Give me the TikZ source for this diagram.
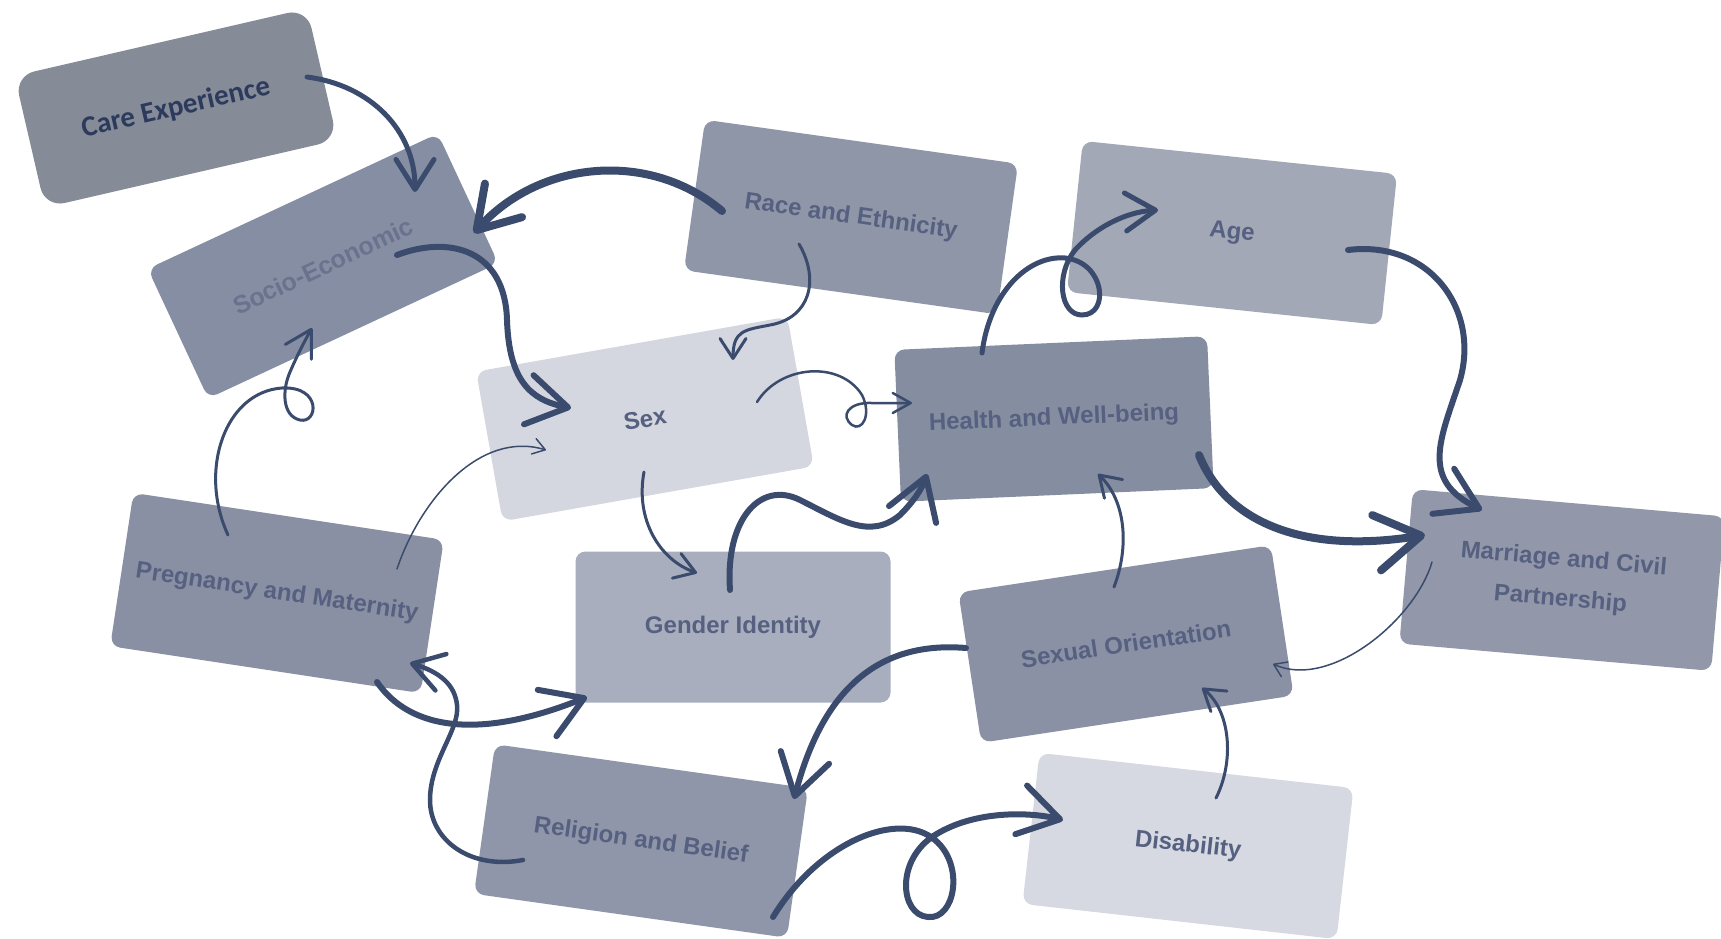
\documentclass[tikz,border=0pt]{standalone}
\usepackage{fontspec}
\setmainfont{Liberation Sans}
\newfontfamily\carefont{Carlito}
\usetikzlibrary{arrows.meta}
\definecolor{ink}{HTML}{3B4B6D}
\definecolor{lbl}{HTML}{566080}
\definecolor{careclr}{HTML}{868B98}
\definecolor{careink}{HTML}{2C3A5C}
\definecolor{socclr}{HTML}{858EA3}
\definecolor{soctxt}{HTML}{6A738D}
\definecolor{raceclr}{HTML}{8F96A8}
\definecolor{ageclr}{HTML}{A2A8B6}
\definecolor{sexclr}{HTML}{D4D7DF}
\definecolor{healthclr}{HTML}{858DA1}
\definecolor{pregclr}{HTML}{8990A3}
\definecolor{genderclr}{HTML}{A8AEBD}
\definecolor{orientclr}{HTML}{8A91A5}
\definecolor{marrclr}{HTML}{9298AA}
\definecolor{religclr}{HTML}{8F96A9}
\definecolor{disclr}{HTML}{D6D9E1}

\begin{document}
\begin{tikzpicture}[x=1pt,y=-1pt,
	card/.style={rounded corners=10pt, minimum width=316pt, minimum height=152pt, inner sep=0pt, align=center, text=lbl, font=\bfseries\fontsize{24}{29}\selectfont},
	bigarrow/.style={draw=ink, line width=7pt, line cap=round, -{Straight Barb[length=40pt,width=50pt,round]}},
	midarrow/.style={draw=ink, line width=4.5pt, line cap=round, -{Straight Barb[length=30pt,width=38pt,round]}},
	lowarrow/.style={draw=ink, line width=3pt, line cap=round, -{Straight Barb[length=20pt,width=26pt,round]}},
	thinarrow/.style={draw=ink, line width=1.5pt, line cap=round, -{Straight Barb[length=12pt,width=16pt,round]}}]
	%%%%% START %%%%%
	\fill[white] (0,0) rectangle (1721,939);
	\useasboundingbox (0,0) rectangle (1721,939);
	
	% boxes
	\node[card, fill=careclr, minimum width=300pt, minimum height=135pt, rounded corners=20pt, rotate=13, text=careink, font=\carefont\bfseries\fontsize{29}{34}\selectfont] (care) at (176,108) {Care Experience};
	\node[card, fill=socclr, minimum width=320pt, minimum height=143pt, rotate=25, text=soctxt, font=\bfseries\fontsize{25}{30}\selectfont] (socio) at (323,266) {Socio-Economic};
	\node[card, fill=raceclr, rotate=-8] (race) at (851,217) {Race and Ethnicity};
	\node[card, fill=ageclr, rotate=-6] (age) at (1232,233) {Age};
	\node[card, fill=sexclr, rotate=10] (sex) at (645,419) {Sex};
	\node[card, fill=healthclr, minimum width=313pt, rotate=2.5] (health) at (1054,419) {Health and Well-being};
	\node[card, fill=pregclr, minimum width=314pt, minimum height=155pt, rotate=-8.6] (preg) at (277,593) {Pregnancy and Maternity};
	\node[card, fill=genderclr, minimum width=315pt, minimum height=151pt] (gender) at (733,627) {Gender Identity};
	\node[card, fill=orientclr, rotate=8.6] (orient) at (1126,644) {Sexual Orientation};
	\node[card, fill=marrclr, minimum width=313pt, minimum height=155pt, rotate=-5, font=\bfseries\fontsize{24}{40}\selectfont] (marr) at (1562,580) {Marriage and Civil\\Partnership};
	\node[card, fill=religclr, minimum height=151pt, rotate=-8] (relig) at (641,841) {Religion and Belief};
	\node[card, fill=disclr, rotate=-6.4] (dis) at (1188,846) {Disability};
	
	% arrow ends
	\coordinate (careout) at (307,77);
	\coordinate (socin) at (415,192);
	\coordinate (raceout) at (722,211);
	\coordinate (socin2) at (474,233);
	\coordinate (socout) at (397,255);
	\coordinate (sexin) at (571,408);
	\coordinate (raceout2) at (799,244);
	\coordinate (sexin2) at (733,360);
	\coordinate (sexout) at (757,402);
	\coordinate (healthin) at (912,403);
	\coordinate (healthout) at (982,353);
	\coordinate (agein) at (1158,210);
	\coordinate (ageout) at (1348,250);
	\coordinate (marrin) at (1482,510);
	\coordinate (healthout2) at (1199,455);
	\coordinate (marrin2) at (1425,535);
	\coordinate (marrout) at (1432,562);
	\coordinate (orientin) at (1273,664);
	\coordinate (orientout) at (1114,587);
	\coordinate (healthin2) at (1098,474);
	\coordinate (disout) at (1216,798);
	\coordinate (orientin2) at (1202,688);
	\coordinate (orientout2) at (966,648);
	\coordinate (religin) at (794,799);
	\coordinate (religout) at (773,917);
	\coordinate (disin) at (1063,820);
	\coordinate (religout2) at (523,860);
	\coordinate (pregin) at (410,663);
	\coordinate (pregout) at (377,682);
	\coordinate (genderin) at (587,697);
	\coordinate (pregout2) at (228,535);
	\coordinate (socin3) at (312,328);
	\coordinate (pregout3) at (397,569);
	\coordinate (sexin3) at (546,450);
	\coordinate (sexout2) at (644,472);
	\coordinate (genderin2) at (697,573);
	\coordinate (genderout) at (730,590);
	\coordinate (healthin3) at (927,474);
	
	% arrows
	\draw[midarrow, line width=5pt] (careout) .. controls (370,85) and (415,130) .. (socin);
	\draw[bigarrow, line width=8pt] (raceout) .. controls (650,150) and (540,160) .. (socin2);
	\draw[bigarrow, line width=6pt] (socout) .. controls (450,235) and (505,250) .. (507,320) .. controls (509,380) and (530,400) .. (sexin);
	\draw[lowarrow] (raceout2) .. controls (820,280) and (810,318) .. (770,325) .. controls (745,330) and (733,330) .. (sexin2);
	\draw[thinarrow, line width=2.5pt, -{Straight Barb[length=18pt,width=20pt,round]}] (sexout) .. controls (780,365) and (840,360) .. (862,395) .. controls (872,415) and (862,432) .. (852,425) .. controls (840,416) and (848,402) .. (872,403) -- (healthin);
	\draw[midarrow, line width=5pt] (healthout) .. controls (990,290) and (1030,255) .. (1065,258) .. controls (1105,262) and (1110,315) .. (1082,315) .. controls (1060,315) and (1055,275) .. (1075,250) .. controls (1095,228) and (1125,212) .. (agein);
	\draw[bigarrow, line width=6pt] (ageout) .. controls (1430,240) and (1480,310) .. (1460,380) .. controls (1440,440) and (1420,480) .. (marrin);
	\draw[bigarrow, line width=8pt, -{Straight Barb[length=45pt,width=56pt,round]}] (healthout2) .. controls (1225,520) and (1300,555) .. (marrin2);
	\draw[thinarrow] (marrout) .. controls (1415,620) and (1330,690) .. (orientin);
	\draw[lowarrow] (orientout) .. controls (1130,545) and (1125,500) .. (healthin2);
	\draw[lowarrow] (disout) .. controls (1235,760) and (1230,710) .. (orientin2);
	\draw[bigarrow, line width=6pt] (orientout2) .. controls (870,640) and (820,700) .. (religin);
	\draw[bigarrow, line width=6pt] (religout) .. controls (820,840) and (900,810) .. (935,840) .. controls (965,865) and (955,920) .. (928,917) .. controls (900,915) and (895,860) .. (935,835) .. controls (975,810) and (1030,812) .. (disin);
	\draw[midarrow] (religout2) .. controls (470,870) and (430,840) .. (430,800) .. controls (430,760) and (460,730) .. (457,705) .. controls (455,685) and (440,672) .. (pregin);
	\draw[bigarrow, line width=6pt] (pregout) .. controls (410,730) and (480,740) .. (genderin);
	\draw[lowarrow, -{Straight Barb[length=26pt,width=30pt,round]}] (pregout2) .. controls (198,470) and (225,392) .. (282,388) .. controls (322,386) and (318,424) .. (300,420) .. controls (282,416) and (282,390) .. (290,372) .. controls (296,358) and (304,342) .. (socin3);
	\draw[thinarrow] (pregout3) .. controls (420,500) and (480,430) .. (sexin3);
	\draw[lowarrow] (sexout2) .. controls (635,520) and (660,560) .. (genderin2);
	\draw[bigarrow, line width=6pt] (genderout) .. controls (725,520) and (760,480) .. (800,500) .. controls (840,520) and (870,540) .. (900,515) .. controls (915,500) and (922,488) .. (healthin3);
	%%%%% END %%%%%
\end{tikzpicture}
\end{document}
